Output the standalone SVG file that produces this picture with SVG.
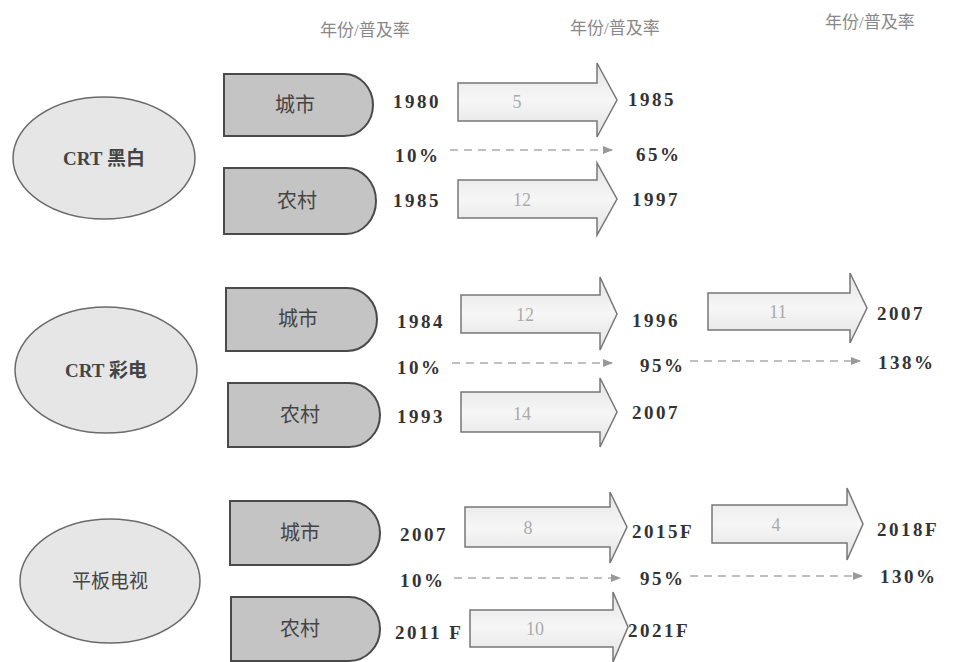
<svg xmlns="http://www.w3.org/2000/svg" width="958" height="662" viewBox="0 0 958 662">
<defs>
<linearGradient id="ag" x1="0" y1="0" x2="0" y2="1">
<stop offset="0" stop-color="#e4e4e4"/><stop offset="0.5" stop-color="#f6f6f6"/><stop offset="1" stop-color="#e2e2e2"/>
</linearGradient>
<marker id="dh" viewBox="0 0 10 10" refX="9" refY="5" markerWidth="7" markerHeight="7" orient="auto">
<path d="M0,1 L10,5 L0,9 Z" fill="#999"/>
</marker>
</defs>
<style>
.hdr{font-family:"Liberation Serif","Noto Sans CJK SC",serif;font-size:17px;fill:#888}
.ell{fill:#e6e6e6;stroke:#6a6a6a;stroke-width:1.5}
.et{font-family:"Liberation Serif","Noto Sans CJK SC",serif;font-size:19px;font-weight:bold;fill:#444;text-anchor:middle}
.box{fill:#c4c4c4;stroke:#4a4a4a;stroke-width:2}
.bt{font-family:"Liberation Serif","Noto Sans CJK SC",serif;font-size:20px;fill:#444;text-anchor:middle}
.num{font-family:"Liberation Serif",serif;font-size:19px;font-weight:bold;fill:#333;letter-spacing:2.5px}
.arr{fill:url(#ag);stroke:#777;stroke-width:1.5}
.at{font-family:"Liberation Serif",serif;font-size:18px;fill:#aaa;text-anchor:middle}
.dash{stroke:#aaa;stroke-width:1.5;stroke-dasharray:8,6;fill:none;marker-end:url(#dh)}
</style>
<rect width="958" height="662" fill="#fff"/>
<g id="headers">
<text class="hdr" x="320" y="36">年份/普及率</text>
<text class="hdr" x="570" y="34">年份/普及率</text>
<text class="hdr" x="825" y="28">年份/普及率</text>
</g>
<g id="n-crt-bw">
<ellipse class="ell" cx="104" cy="158" rx="91" ry="61"/>
<text class="et" x="104" y="165">CRT 黑白</text>
</g>
<g id="n-crt-bw-city">
<path class="box" d="M224,74 H344 A29,31 0 0 1 373,105 A29,31 0 0 1 344,136 H224 Z"/>
<text class="bt" x="295" y="112">城市</text>
</g>
<g id="n-crt-bw-rural">
<path class="box" d="M224,168 H346 A30,33 0 0 1 376,201 A30,33 0 0 1 346,234 H224 Z"/>
<text class="bt" x="297" y="208">农村</text>
</g>
<g id="n-crt-color">
<ellipse class="ell" cx="106" cy="370" rx="91" ry="63"/>
<text class="et" x="106" y="377">CRT 彩电</text>
</g>
<g id="n-crt-color-city">
<path class="box" d="M226,288 H347 A30,31.5 0 0 1 377,319.5 A30,31.5 0 0 1 347,351 H226 Z"/>
<text class="bt" x="298" y="326">城市</text>
</g>
<g id="n-crt-color-rural">
<path class="box" d="M228,383 H349 A31,32 0 0 1 380,415 A31,32 0 0 1 349,447 H228 Z"/>
<text class="bt" x="300" y="422">农村</text>
</g>
<g id="n-flat">
<ellipse class="ell" cx="110" cy="581" rx="90" ry="62"/>
<text class="et" x="110" y="588" style="font-weight:normal">平板电视</text>
</g>
<g id="n-flat-city">
<path class="box" d="M230,501 H349 A31,32 0 0 1 380,533 A31,32 0 0 1 349,565 H230 Z"/>
<text class="bt" x="300" y="540">城市</text>
</g>
<g id="n-flat-rural">
<path class="box" d="M231,597 H349 A31,32 0 0 1 380,629 A31,32 0 0 1 349,661 H231 Z"/>
<text class="bt" x="300" y="636">农村</text>
</g>
<g id="connectors">
<path class="arr" d="M458,83 H597 V63 L617,100 L597,137 V121 H458 Z"/>
<text class="at" x="517" y="108">5</text>
<path class="arr" d="M458,180 H597 V163 L617,199 L597,235 V218 H458 Z"/>
<text class="at" x="522" y="206">12</text>
<path class="arr" d="M461,295 H600 V277 L617,314 L600,350 V333 H461 Z"/>
<text class="at" x="525" y="321">12</text>
<path class="arr" d="M708,293 H850 V273 L867,308 L850,343 V330 H708 Z"/>
<text class="at" x="778" y="318">11</text>
<path class="arr" d="M461,392 H600 V378 L617,412 L600,447 V432 H461 Z"/>
<text class="at" x="522" y="420">14</text>
<path class="arr" d="M465,507 H610 V492 L627,527 L610,563 V547 H465 Z"/>
<text class="at" x="528" y="534">8</text>
<path class="arr" d="M712,505 H847 V488 L863,524 L847,560 V543 H712 Z"/>
<text class="at" x="776" y="531">4</text>
<path class="arr" d="M470,610 H613 V592 L628,627 L613,662 V647 H470 Z"/>
<text class="at" x="535" y="635">10</text>
<line class="dash" x1="450" y1="150" x2="612" y2="150"/>
<line class="dash" x1="452" y1="363" x2="612" y2="363"/>
<line class="dash" x1="690" y1="361" x2="860" y2="361"/>
<line class="dash" x1="454" y1="578" x2="620" y2="578"/>
<line class="dash" x1="690" y1="576" x2="862" y2="576"/>
</g>
<g id="labels">
<text class="num" x="393" y="108">1980</text>
<text class="num" x="628" y="106">1985</text>
<text class="num" x="395" y="162">10%</text>
<text class="num" x="636" y="161">65%</text>
<text class="num" x="393" y="207">1985</text>
<text class="num" x="632" y="206">1997</text>
<text class="num" x="397" y="328">1984</text>
<text class="num" x="632" y="327">1996</text>
<text class="num" x="877" y="320">2007</text>
<text class="num" x="397" y="374">10%</text>
<text class="num" x="640" y="372">95%</text>
<text class="num" x="878" y="369">138%</text>
<text class="num" x="397" y="423">1993</text>
<text class="num" x="632" y="419">2007</text>
<text class="num" x="400" y="541">2007</text>
<text class="num" x="632" y="538">2015F</text>
<text class="num" x="877" y="536">2018F</text>
<text class="num" x="400" y="587">10%</text>
<text class="num" x="640" y="585">95%</text>
<text class="num" x="880" y="583">130%</text>
<text class="num" x="395" y="639">2011 F</text>
<text class="num" x="628" y="637">2021F</text>
</g>
</svg>
